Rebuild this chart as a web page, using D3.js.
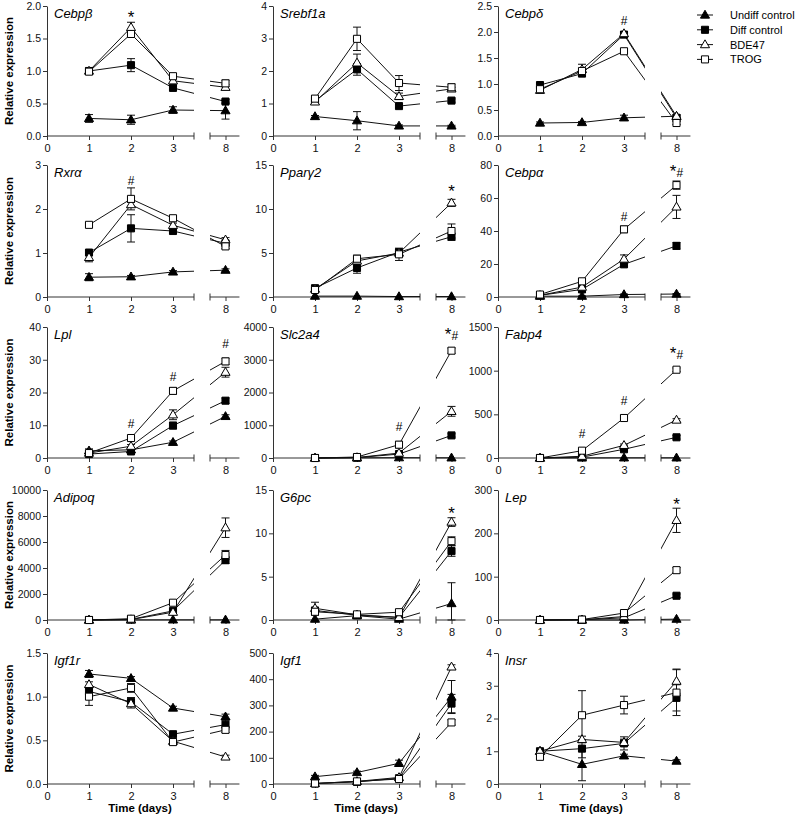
<!DOCTYPE html>
<html><head><meta charset="utf-8">
<script src="https://cdn.jsdelivr.net/npm/d3@7"></script>
<style>
body{margin:0;background:#fff;}
text{font-family:"Liberation Sans",Arial,sans-serif;}
</style></head>
<body><svg id="c" width="795" height="814"></svg>
<script>
const days = [1, 2, 3, 8];
const xTicks = [0, 1, 2, 3, 8];
const genes = ["Cebpβ","Srebf1a","Cebpδ","Rxrα","Pparγ2","Cebpα","Lpl","Slc2a4","Fabp4","Adipoq","G6pc","Lep","Igf1r","Igf1","Insr"];
const yMax = [2,4,2.5,3,15,80,40,4000,1500,10000,15,300,1.5,500,4];
const yStep = [0.5,1,0.5,1,5,20,10,1000,500,2000,5,100,0.5,100,1];
const yDecimals = [1,0,1,0,0,0,0,0,0,0,0,0,1,0,0];
const seriesNames = ["Undiff control","Diff control","BDE47","TROG"];

const undiffMean = [
 [0.27,0.25,0.40,0.39],[0.60,0.47,0.31,0.31],[0.25,0.26,0.35,0.38],[0.45,0.46,0.57,0.61],
 [0.1,0.1,0.05,0.05],[0.5,0.5,1.5,1.8],[2.2,2.5,4.8,12.7],[0,5,10,5],[0,1,2,2],
 [0,5,10,10],[0.1,0.5,0.1,1.9],[0,0,0,2],[1.26,1.21,0.87,0.77],[28,44,79,332],[1.0,0.6,0.86,0.7]
];
const undiffErr = [
 [0.06,0.07,0.05,0.13],[0.03,0.28,0.03,0.02],[0.02,0.02,0.05,0.02],[0.08,0.03,0.03,0.03],
 [0,0,0,0],[0.2,0.2,0.3,0.3],[0.6,0.3,0.4,0.5],[0,0,0,0],[0,0,0,0],
 [0,0,0,0],[0,0,0,2.4],[0,0,0,0],[0.04,0.02,0.02,0.03],[5,5,12,63],[0.05,0.5,0.05,0.04]
];
const diffMean = [
 [1.0,1.09,0.74,0.53],[1.08,2.05,0.92,1.09],[0.98,1.2,1.95,0.35],[1.01,1.56,1.5,1.22],
 [1.0,3.3,5.1,6.85],[1,4.6,19.8,31],[1.2,2.0,9.9,17.5],[0,10,120,690],[0,10,100,237],
 [0,50,700,4600],[1.1,0.55,0.3,7.95],[0,0.5,5,56],[1.06,0.94,0.57,0.68],[2,8,22,307],[1.0,1.08,1.24,2.63]
];
const diffErr = [
 [0.02,0.1,0.03,0.03],[0.05,0.18,0.05,0.05],[0.04,0.05,0.04,0.03],[0.05,0.31,0.05,0.05],
 [0.1,0.6,0.3,0.4],[0.2,1,1.5,2],[0.3,0.3,1,0.8],[0,5,30,50],[0,3,10,20],
 [0,20,100,250],[0.2,0.1,0.1,0.6],[0,0.2,1,4],[0.04,0.05,0.03,0.05],[1,2,5,35],[0.03,0.28,0.2,0.4]
];
const bdeMean = [
 [1.0,1.67,0.85,0.75],[1.05,2.25,1.22,1.45],[0.88,1.28,1.97,0.38],[0.9,2.1,1.63,1.3],
 [0.9,4.1,5.0,10.7],[1,6,23,54.6],[1.5,3.6,13.2,26.2],[0,15,150,1425],[0,20,145,435],
 [0,30,600,7100],[1.35,0.6,0.3,11.3],[0,0.5,8,230],[1.14,0.92,0.49,0.31],[2,10,25,447],[1.0,1.36,1.27,3.14]
];
const bdeErr = [
 [0.02,0.08,0.04,0.04],[0.04,0.27,0.1,0.05],[0.05,0.1,0.04,0.03],[0.1,0.05,0.05,0.05],
 [0.1,0.3,0.3,0.4],[0.2,1,2.5,7],[0.3,0.5,1.5,1.5],[0,5,20,150],[0,5,15,15],
 [0,20,100,750],[0.7,0.1,0.1,0.5],[0,0.2,1,28],[0.03,0.05,0.03,0.02],[1,2,4,8],[0.03,0.1,0.1,0.37]
];
const trogMean = [
 [0.99,1.57,0.92,0.81],[1.15,2.99,1.63,1.5],[0.9,1.25,1.63,0.25],[1.64,2.23,1.79,1.15],
 [0.8,4.35,4.85,7.5],[1.5,9.5,41,67.8],[1.5,6.1,20.5,29.5],[0,30,407,3277],[0,84,458,1011],
 [0,100,1330,5000],[0.95,0.65,0.9,9.1],[0,1,16,115],[1.0,1.1,0.48,0.62],[2,10,19,235],[0.83,2.1,2.41,2.79]
];
const trogErr = [
 [0.02,0.05,0.04,0.05],[0.08,0.36,0.23,0.1],[0.04,0.05,0.04,0.03],[0.05,0.25,0.05,0.05],
 [0.2,0.4,0.7,0.8],[0.5,1.5,2,2.5],[0.3,0.8,1,1],[0,10,100,80],[0,10,30,20],
 [0,30,100,350],[0.4,0.2,0.3,0.5],[0,0.5,3,6],[0.1,0.05,0.03,0.03],[1,3,5,10],[0.05,0.75,0.27,0.7]
];
// significance annotations
const annPanel = [0,2,3,4,5,5,6,6,6,7,7,8,8,8,10,11];
const annDay   = [2,3,2,8,3,8,2,3,8,3,8,2,3,8,8,8];
const annText  = ["*","#","#","*","#","*#","#","#","#","#","*#","#","#","*#","*","*"];
const annValue = [1.88,2.23,2.65,12.4,48.8,76,10.4,25,35,950,3755,283,664,1187,12.7,275];

// ---- layout ----
const colX = [47, 273, 498];
const rowTop = [6, 165, 327, 490, 653];
const rowBot = [136, 297, 458, 620, 784];
const AX = "#333";

const svg = d3.select("#c");
const means = [undiffMean, diffMean, bdeMean, trogMean];
const errs = [undiffErr, diffErr, bdeErr, trogErr];
const symTypes = [d3.symbolTriangle, d3.symbolSquare, d3.symbolTriangle, d3.symbolSquare];
const symSizes = [36, 50, 36, 50];
const symFill = ["#000","#000","#fff","#fff"];

function drawSymbol(g, s, x, y) {
  g.append("path")
    .attr("d", d3.symbol().type(symTypes[s]).size(symSizes[s])())
    .attr("transform", `translate(${x},${y + (symTypes[s] === d3.symbolTriangle ? 0.5 : 0)})`)
    .attr("fill", symFill[s]).attr("stroke", "#000").attr("stroke-width", 1);
}

genes.forEach((gene, p) => {
  const col = p % 3, row = Math.floor(p / 3);
  const x0 = colX[col];
  const xs = d3.scaleLinear().domain([0, 3.5, 7.5, 8.5]).range([x0, x0 + 147, x0 + 163, x0 + 194]);
  const ys = d3.scaleLinear().domain([0, yMax[p]]).range([rowBot[row], rowTop[row]]);
  const g = svg.append("g");

  // y axis
  const yt = d3.range(0, yMax[p] + yStep[p] / 2, yStep[p]);
  const ya = g.append("g").attr("transform", `translate(${x0},0)`)
    .call(d3.axisLeft(ys).tickValues(yt).tickSize(4).tickSizeOuter(0)
      .tickFormat(d3.format("." + yDecimals[p] + "f")));
  ya.select(".domain").attr("stroke", AX);
  ya.selectAll(".tick line").attr("stroke", AX);
  ya.selectAll("text").attr("font-size", 10.5).attr("fill", "#111").attr("dx", 1)
    .style("font-family", "Liberation Sans, Arial, sans-serif");

  // x axis (broken)
  const yb = rowBot[row];
  const xa = g.append("g").attr("transform", `translate(0,${yb})`)
    .call(d3.axisBottom(xs).tickValues(xTicks).tickSize(4).tickSizeOuter(0));
  xa.select(".domain").remove();
  xa.selectAll(".tick line").attr("stroke", AX);
  xa.selectAll("text").attr("font-size", 11).attr("fill", "#111").attr("dy", "0.85em")
    .style("font-family", "Liberation Sans, Arial, sans-serif");
  g.append("line").attr("x1", xs(0)).attr("x2", xs(3.5)).attr("y1", yb).attr("y2", yb).attr("stroke", AX);
  g.append("line").attr("x1", xs(3.5)).attr("x2", xs(3.5)).attr("y1", yb - 3.5).attr("y2", yb + 3.5).attr("stroke", AX);
  g.append("line").attr("x1", xs(7.5)).attr("x2", xs(8.45)).attr("y1", yb).attr("y2", yb).attr("stroke", AX);
  g.append("line").attr("x1", xs(7.5)).attr("x2", xs(7.5)).attr("y1", yb - 3.5).attr("y2", yb + 3.5).attr("stroke", AX);

  // clip for broken lines
  const cid = "clip" + p;
  const cp = svg.append("clipPath").attr("id", cid);
  cp.append("rect").attr("x", x0 - 5).attr("y", rowTop[row] - 30).attr("width", xs(3.5) - x0 + 5).attr("height", yb - rowTop[row] + 40);
  cp.append("rect").attr("x", xs(7.5)).attr("y", rowTop[row] - 30).attr("width", 40).attr("height", yb - rowTop[row] + 40);

  const line = d3.line().x((d, i) => xs(days[i])).y(d => ys(d));
  const lg = g.append("g").attr("clip-path", `url(#${cid})`);
  means.forEach((m, s) => {
    lg.append("path").attr("d", line(m[p])).attr("fill", "none").attr("stroke", "#111").attr("stroke-width", 1);
  });
  // error bars
  means.forEach((m, s) => {
    m[p].forEach((v, i) => {
      const e = errs[s][p][i];
      if (!e) return;
      const cx = xs(days[i]);
      const yHi = ys(v + e), yLo = ys(Math.max(0, v - e));
      g.append("line").attr("x1", cx).attr("x2", cx).attr("y1", yHi).attr("y2", yLo).attr("stroke", "#111");
      [yHi, yLo].forEach(yy => g.append("line").attr("x1", cx - 4).attr("x2", cx + 4).attr("y1", yy).attr("y2", yy).attr("stroke", "#111"));
    });
  });
  // markers
  means.forEach((m, s) => {
    m[p].forEach((v, i) => drawSymbol(g, s, xs(days[i]), ys(v)));
  });

  // gene name
  g.append("text").attr("x", x0 + 7).attr("y", rowTop[row] + 12)
    .attr("font-size", 13).attr("font-style", "italic").text(gene);

  // annotations
  annPanel.forEach((ap, k) => {
    if (ap !== p) return;
    const t = g.append("text").attr("x", xs(annDay[k])).attr("text-anchor", "middle");
    const cy = ys(annValue[k]);
    const txt = annText[k];
    if (txt === "*") { t.attr("y", cy + 9).attr("font-size", 17).text("*"); }
    else if (txt === "#") { t.attr("y", cy + 4.5).attr("font-size", 12).text("#"); }
    else {
      t.attr("y", cy + 5);
      t.append("tspan").attr("font-size", 17).text("*");
      t.append("tspan").attr("font-size", 12).attr("dy", 0).text("#");
    }
  });

  if (col === 0) {
    svg.append("text").attr("transform", `translate(13,${(rowTop[row] + rowBot[row]) / 2}) rotate(-90)`)
      .attr("text-anchor", "middle").attr("font-size", 11.5).attr("font-weight", "bold").text("Relative expression");
  }
  if (row === 4) {
    svg.append("text").attr("x", x0 + 93).attr("y", 812).attr("text-anchor", "middle")
      .attr("font-size", 11.5).attr("font-weight", "bold").text("Time (days)");
  }
});

// legend
const leg = svg.append("g");
seriesNames.forEach((n, s) => {
  const y = 15 + s * 14.8;
  leg.append("line").attr("x1", 697).attr("x2", 713).attr("y1", y).attr("y2", y).attr("stroke", "#111");
  drawSymbol(leg, s, 705, y);
  leg.append("text").attr("x", 730).attr("y", y + 4).attr("font-size", 11).text(n);
});
</script></body></html>
